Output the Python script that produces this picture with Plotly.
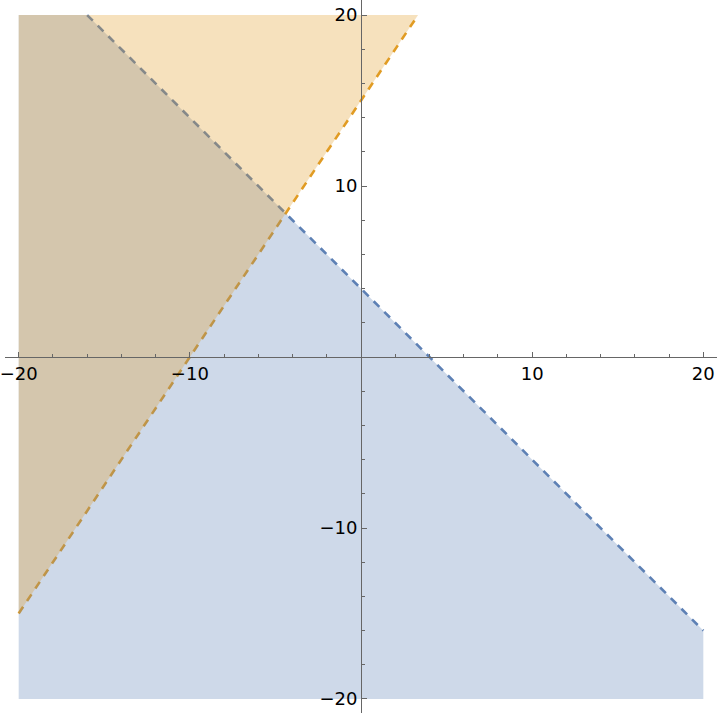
import numpy as np
import plotly.graph_objects as go

# Inequalities: region where sign*(y - (m*x + c)) > 0
blue_line = {"m": -1.0, "c": 4.0, "sign": -1}   # y < 4 - x
orange_line = {"m": 1.5, "c": 15.0, "sign": 1}  # y > 1.5 x + 15
plot_min, plot_max = -20, 20
major_ticks = [-20, -10, 10, 20]
major_labels = ["−20", "−10", "10", "20"]
minor_ticks = [-18, -16, -14, -12, -8, -6, -4, -2, 2, 4, 6, 8, 12, 14, 16, 18]

BLUE = "#5e81b5"
ORANGE = "#e19c24"


def clip_box(m, c, sign, lo, hi):
    box = [(lo, lo), (hi, lo), (hi, hi), (lo, hi)]
    f = lambda p: sign * (p[1] - (m * p[0] + c))
    out = []
    n = len(box)
    for i in range(n):
        a, b = box[i], box[(i + 1) % n]
        fa, fb = f(a), f(b)
        if fa >= 0:
            out.append(a)
        if (fa >= 0) != (fb >= 0):
            t = fa / (fa - fb)
            out.append((a[0] + t * (b[0] - a[0]), a[1] + t * (b[1] - a[1])))
    xs = [p[0] for p in out] + [out[0][0]]
    ys = [p[1] for p in out] + [out[0][1]]
    return xs, ys


def line_segment(m, c, lo, hi):
    pts = []
    for x in (lo, hi):
        y = m * x + c
        if lo - 1e-9 <= y <= hi + 1e-9:
            pts.append((x, y))
    for y in (lo, hi):
        x = (y - c) / m
        if lo - 1e-9 <= x <= hi + 1e-9:
            pts.append((x, y))
    pts = sorted(set((round(a, 9), round(b, 9)) for a, b in pts))
    return [p[0] for p in pts], [p[1] for p in pts]


fig = go.Figure()

for ln, col in ((blue_line, BLUE), (orange_line, ORANGE)):
    lx, ly = line_segment(ln["m"], ln["c"], plot_min, plot_max)
    fig.add_trace(go.Scatter(x=lx, y=ly, mode="lines",
                             line=dict(color=col, width=2.6, dash="8px,7px"),
                             hoverinfo="skip", showlegend=False))

for ln, col in ((blue_line, "rgba(94,129,181,0.3)"), (orange_line, "rgba(225,156,36,0.3)")):
    px, py = clip_box(ln["m"], ln["c"], ln["sign"], plot_min, plot_max)
    fig.add_trace(go.Scatter(x=px, y=py, mode="lines", fill="toself",
                             fillcolor=col, line=dict(width=0),
                             hoverinfo="skip", showlegend=False))

xr = [-20.8, 20.8]
yr = [-20.82, 20.88]
xpos = (0 - xr[0]) / (xr[1] - xr[0])
ypos = (0 - yr[0]) / (yr[1] - yr[0])

axis_common = dict(
    showgrid=False, zeroline=False, showline=True, linecolor="#666666", linewidth=1,
    ticks="inside", ticklen=5, tickcolor="#666666", tickwidth=1,
    tickmode="array", tickvals=major_ticks, ticktext=major_labels,
    minor=dict(tickmode="array", tickvals=minor_ticks, ticks="inside", ticklen=3,
               tickcolor="#666666", tickwidth=1),
    tickfont=dict(family="DejaVu Sans", size=18, color="black"),
    anchor="free", automargin=False, ticklabeloverflow="allow",
)

fig.update_layout(
    width=720, height=716,
    margin=dict(l=5, r=3, t=0, b=3),
    plot_bgcolor="white", paper_bgcolor="white",
    xaxis=dict(range=xr, position=ypos, **axis_common),
    yaxis=dict(range=yr, position=xpos, **axis_common),
    showlegend=False,
)

fig.write_html("out.html", config={"displayModeBar": False},
               post_script="document.body.style.margin='0px';")
